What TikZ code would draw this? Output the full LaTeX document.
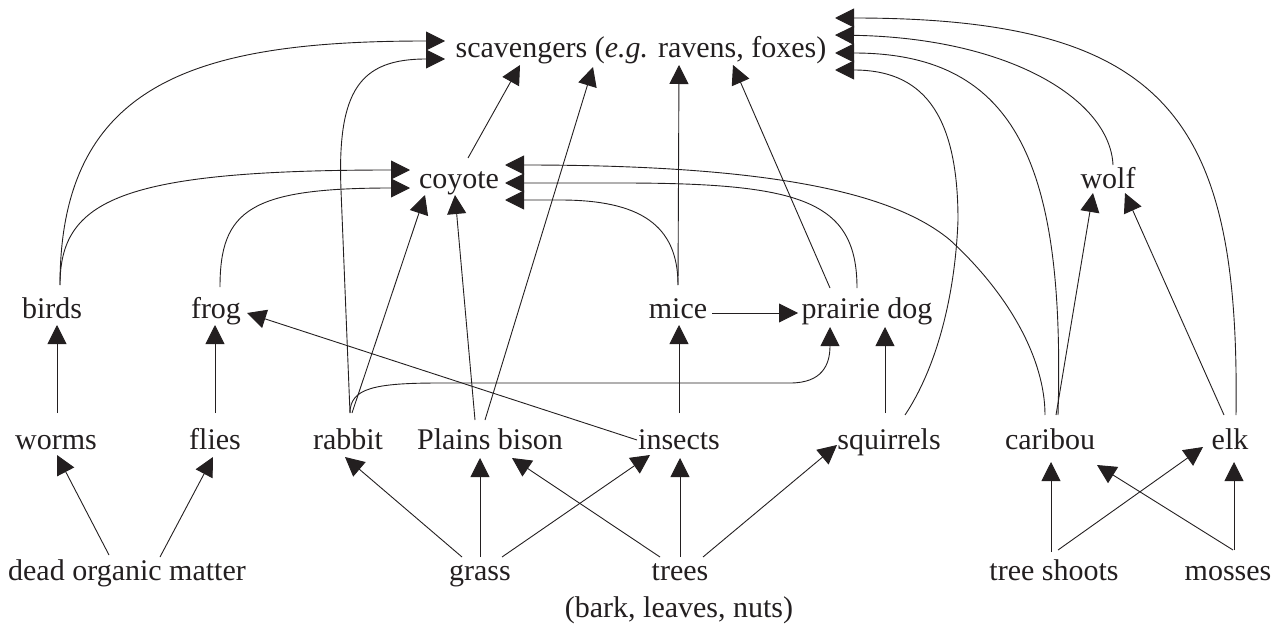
\documentclass[tikz,border=0pt]{standalone}
\usepackage{fontspec}
\setmainfont{Liberation Serif}
\usetikzlibrary{arrows.meta,calc}
\definecolor{ink}{RGB}{35,31,32}
\begin{document}
\begin{tikzpicture}[x=1pt,y=-1pt,
  lbl/.style={font=\fontsize{30}{36}\selectfont, inner sep=0pt, anchor=base, text=ink},
  link/.style={draw=ink, line width=0.9pt, -{Triangle[length=19pt,width=19pt]}}]
\useasboundingbox (0,0) rectangle (1282,626);
% nodes
\node[lbl] (scav) at (641,58) {scavengers (\textit{e.g.} ravens, foxes)};
\node[lbl] (coyote) at (459,188) {coyote};
\node[lbl] (wolf) at (1108,188) {wolf};
\node[lbl] (birds) at (52,318) {birds};
\node[lbl] (frog) at (216,318) {frog};
\node[lbl] (mice) at (678,318) {mice};
\node[lbl] (prairie) at (867,318) {prairie dog};
\node[lbl] (worms) at (56,449) {worms};
\node[lbl] (flies) at (215,449) {flies};
\node[lbl] (rabbit) at (348,449) {rabbit};
\node[lbl] (bison) at (490,449) {Plains bison};
\node[lbl] (insects) at (679,449) {insects};
\node[lbl] (squirrels) at (889,449) {squirrels};
\node[lbl] (caribou) at (1050,449) {caribou};
\node[lbl] (elk) at (1230,449) {elk};
\node[lbl] (dead) at (127,580) {dead organic matter};
\node[lbl] (grass) at (480,580) {grass};
\node[lbl] (trees) at (680,580) {trees};
\node[lbl] (bark) at (679,617) {(bark, leaves, nuts)};
\node[lbl] (shoots) at (1054,580) {tree shoots};
\node[lbl] (mosses) at (1228,580) {mosses};
% bottom row
\draw[link] ($(dead.base)+(-18,-25)$) -- ($(worms.base)+(1,6)$);
\draw[link] ($(dead.base)+(33,-23)$) -- ($(flies.base)+(-2,8)$);
\draw[link] ($(grass.base)+(-18,-23)$) -- ($(rabbit.base)+(-3,8)$);
\draw[link] ($(grass.base)+(0,-23)$) -- ($(bison.base)+(-10,9)$);
\draw[link] ($(grass.base)+(22,-23)$) -- ($(insects.base)+(-29,6)$);
\draw[link] ($(trees.base)+(-20,-23)$) -- ($(bison.base)+(22,9)$);
\draw[link] ($(trees.base)+(0,-23)$) -- ($(insects.base)+(1,9)$);
\draw[link] ($(trees.base)+(23,-23)$) -- ($(squirrels.base)+(-52,-4)$);
\draw[link] ($(shoots.base)+(-3,-28)$) -- ($(caribou.base)+(1,13)$);
\draw[link] ($(shoots.base)+(4,-30)$) -- ($(elk.base)+(-27,-2)$);
\draw[link] ($(mosses.base)+(5,-30)$) -- ($(caribou.base)+(47,16)$);
\draw[link] ($(mosses.base)+(6,-30)$) -- ($(elk.base)+(4,13)$);
% row 4 to row 3
\draw[link] ($(worms.base)+(1,-36)$) -- ($(birds.base)+(5,7)$);
\draw[link] ($(flies.base)+(0,-36)$) -- ($(frog.base)+(-1,7)$);
\draw[link] ($(insects.base)+(-42,-9)$) -- ($(frog.base)+(31,-5)$);
\draw[link] ($(insects.base)+(0,-36)$) -- ($(mice.base)+(1,7)$);
\draw[link] ($(rabbit.base)+(2,-36)$) .. controls (350,388) and (375,383) .. (440,383) -- (790,383) .. controls (822,383) and (830,365) .. ($(prairie.base)+(-37,9)$);
\draw[link] ($(squirrels.base)+(-4,-36)$) -- ($(prairie.base)+(18,9)$);
\draw[link] ($(mice.base)+(34,-5)$) -- ($(prairie.base)+(-69,-5)$);
% to coyote
\draw[link] ($(birds.base)+(8,-33)$) .. controls (60,200) and (120,170) .. ($(coyote.base)+(-49,-18)$);
\draw[link] ($(frog.base)+(4,-31)$) .. controls (220,210) and (250,188) .. ($(coyote.base)+(-49,0)$);
\draw[link] ($(rabbit.base)+(4,-36)$) -- ($(coyote.base)+(-34,7)$);
\draw[link] ($(bison.base)+(-15,-29)$) -- ($(coyote.base)+(-4,7)$);
\draw[link] ($(mice.base)+(0,-33)$) .. controls (678,225) and (640,200) .. (560,200) -- ($(coyote.base)+(46,12)$);
\draw[link] ($(prairie.base)+(-10,-30)$) .. controls (857,200) and (800,183) .. (620,183) -- ($(coyote.base)+(46,-5)$);
\draw[link] ($(caribou.base)+(-5,-34)$) .. controls (1045,360) and (1010,295) .. (950,240) .. controls (890,190) and (760,165) .. ($(coyote.base)+(46,-23)$);
% to scavengers
\draw[link] ($(birds.base)+(8,-33)$) .. controls (60,80) and (200,41) .. ($(scav.base)+(-196,-17)$);
\draw[link] ($(rabbit.base)+(2,-36)$) -- (341,190) .. controls (337,90) and (360,59) .. ($(scav.base)+(-196,1)$);
\draw[link] ($(coyote.base)+(9,-30)$) -- ($(scav.base)+(-121,7)$);
\draw[link] ($(bison.base)+(-5,-29)$) -- ($(scav.base)+(-48,9)$);
\draw[link] ($(mice.base)+(0,-33)$) -- ($(scav.base)+(38,7)$);
\draw[link] ($(prairie.base)+(-37,-30)$) -- ($(scav.base)+(92,7)$);
\draw[link] ($(squirrels.base)+(16,-34)$) .. controls (935,370) and (955,300) .. (958,220) .. controls (958,110) and (920,70) .. ($(scav.base)+(194,12)$);
\draw[link] ($(caribou.base)+(8,-34)$) .. controls (1065,170) and (1020,53) .. ($(scav.base)+(194,-5)$);
\draw[link] ($(wolf.base)+(5,-23)$) .. controls (1110,100) and (1010,38) .. ($(scav.base)+(194,-23)$);
\draw[link] ($(elk.base)+(6,-34)$) .. controls (1240,120) and (1170,18) .. ($(scav.base)+(194,-40)$);
% to wolf
\draw[link] ($(caribou.base)+(6,-34)$) -- ($(wolf.base)+(-15,5)$);
\draw[link] ($(elk.base)+(-6,-34)$) -- ($(wolf.base)+(17,5)$);
\end{tikzpicture}
\end{document}
